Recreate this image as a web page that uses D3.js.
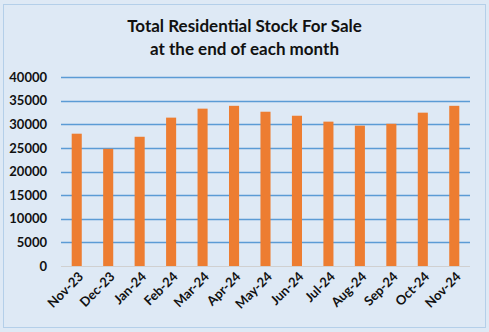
<!DOCTYPE html>
<html><head><meta charset="utf-8">
<script src="https://cdn.jsdelivr.net/npm/d3@7"></script>
<style>html,body{margin:0;padding:0;background:#dee9f5;}svg{display:block;}</style>
</head><body>
<svg id="c" width="489" height="332"></svg>
<script>
const categories = ["Nov-23","Dec-23","Jan-24","Feb-24","Mar-24","Apr-24","May-24","Jun-24","Jul-24","Aug-24","Sep-24","Oct-24","Nov-24"];
const values = [28000,24800,27350,31400,33300,33900,32650,31800,30550,29700,30100,32450,33900];
const yTicks = [0,5000,10000,15000,20000,25000,30000,35000,40000];
const titleLines = ["Total Residential Stock For Sale","at the end of each month"];

const svg = d3.select("#c");
const W = 489, H = 332;
const m = {left:61, right:19, top:77, bottom:66};
svg.append("rect").attr("x",0).attr("y",0).attr("width",W).attr("height",H).attr("fill","#dee9f5");
svg.append("rect").attr("x",3.5).attr("y",4.5).attr("width",482).attr("height",323)
  .attr("fill","#dee9f5").attr("stroke","#b4cfe9").attr("stroke-width",1);

const x = d3.scaleBand().domain(categories).range([m.left, W-m.right]).paddingInner(0.68).paddingOuter(0.34);
const y = d3.scaleLinear().domain([0,40000]).range([H-m.bottom, m.top]);

const font = "Lato, 'Open Sans', sans-serif";
// gridlines
svg.append("g").selectAll("line").data(yTicks.filter(d=>d>0)).join("line")
  .attr("x1",m.left).attr("x2",W-m.right)
  .attr("y1",d=>Math.round(y(d))+0.5).attr("y2",d=>Math.round(y(d))+0.5)
  .attr("stroke","#5b9bd5").attr("stroke-width",1.3);

// bars
svg.append("g").selectAll("rect").data(values).join("rect")
  .attr("x",(d,i)=>x(categories[i])).attr("width",x.bandwidth())
  .attr("y",d=>y(d)).attr("height",d=>y(0)-y(d)).attr("fill","#ed7d31");

// baseline
svg.append("line").attr("x1",m.left).attr("x2",W-m.right)
  .attr("y1",Math.round(y(0))+0.5).attr("y2",Math.round(y(0))+0.5)
  .attr("stroke","#d0d0d0").attr("stroke-width",1);

// y axis
const yAxis = d3.axisLeft(y).tickValues(yTicks).tickSize(0).tickPadding(0).tickFormat(d3.format("d"));
const gy = svg.append("g").attr("transform",`translate(${m.left-14},0)`).call(yAxis);
gy.select(".domain").remove();
gy.selectAll("text").attr("font-family",font).attr("font-size","13px").attr("font-weight","bold").attr("fill","#111");

// x axis
const xAxis = d3.axisBottom(x).tickSize(0).tickPadding(0);
const gx = svg.append("g").attr("transform",`translate(0,${H-m.bottom})`).call(xAxis);
gx.select(".domain").remove();
gx.selectAll("text").attr("font-family",font).attr("font-size","13px").attr("font-weight","bold").attr("fill","#111")
  .attr("text-anchor","end").attr("dy",null)
  .attr("transform","translate(5,9) rotate(-45)")
  .attr("y",0).attr("x",0).attr("dominant-baseline","middle");

// title
svg.append("g").selectAll("text").data(titleLines).join("text")
  .attr("x",244.5).attr("y",(d,i)=>32+i*22.5).attr("text-anchor","middle")
  .attr("font-family",font).attr("font-size","17px").attr("font-weight","bold").attr("fill","#111")
  .text(d=>d);
</script>
</body></html>
